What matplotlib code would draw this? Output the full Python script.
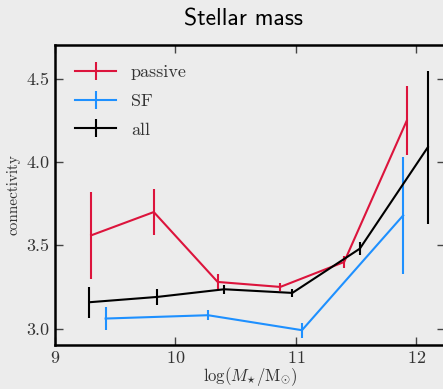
import numpy as np
import matplotlib
matplotlib.use("Agg")
import matplotlib.pyplot as plt

# data
x_passive = [9.30, 9.82, 10.35, 10.87, 11.40, 11.92]
y_passive = [3.56, 3.70, 3.28, 3.25, 3.40, 4.25]
e_passive = [0.26, 0.14, 0.05, 0.025, 0.035, 0.21]

x_sf = [9.42, 10.27, 11.05, 11.89]
y_sf = [3.06, 3.08, 2.99, 3.68]
e_sf = [0.07, 0.03, 0.045, 0.35]

x_all = [9.285, 9.85, 10.405, 10.97, 11.53, 12.095]
y_all = [3.158, 3.19, 3.236, 3.214, 3.48, 4.09]
e_all = [0.093, 0.05, 0.028, 0.025, 0.04, 0.46]

bg = '#ececec'
plt.rcParams['font.family'] = 'serif'
plt.rcParams['font.serif'] = ['cmr10']
plt.rcParams['mathtext.fontset'] = 'cm'
plt.rcParams['axes.formatter.use_mathtext'] = True

fig = plt.figure(figsize=(4.43, 3.89), dpi=100, facecolor=bg)
ax = fig.add_axes([55/443, 1 - 344.5/389, 390/443, (344.5 - 45)/389])
ax.set_facecolor(bg)

ax.errorbar(x_passive, y_passive, yerr=e_passive, color='#dc143c', lw=1.5,
            elinewidth=1.5, capsize=0, label='passive')
ax.errorbar(x_sf, y_sf, yerr=e_sf, color='#1e90ff', lw=1.5,
            elinewidth=1.5, capsize=0, label='SF')
ax.errorbar(x_all, y_all, yerr=e_all, color='black', lw=1.5,
            elinewidth=1.5, capsize=0, label='all')

ax.set_xlim(9, 12.237)
ax.set_ylim(2.904, 4.704)
ax.set_xticks([9, 10, 11, 12])
ax.set_yticks([3.0, 3.5, 4.0, 4.5])
ax.set_yticklabels(['3.0', '3.5', '4.0', '4.5'])
ax.tick_params(direction='in', length=6, width=1, color='#444444',
               labelcolor='#333333', labelsize=13, top=True, right=True, pad=4)
for s in ax.spines.values():
    s.set_linewidth(1.8)

ax.set_xlabel(r'$\log(M_{{\star}}/\mathrm{M}_{\odot})$', fontsize=12,
              color='#333333', labelpad=-1)
ax.set_ylabel('connectivity', fontsize=11, color='#333333', labelpad=4)

leg = ax.legend(loc='upper left', frameon=False, fontsize=13, handlelength=2.3,
                handletextpad=0.8, borderaxespad=0.7, labelspacing=0.72)
for t in leg.get_texts():
    t.set_color('#333333')

fig.text(243/443, 1 - 19/389, 'Stellar mass', family='cmss10', fontsize=17,
         ha='center', va='center', color='black')

fig.savefig('out.png', dpi=100, facecolor=bg)
